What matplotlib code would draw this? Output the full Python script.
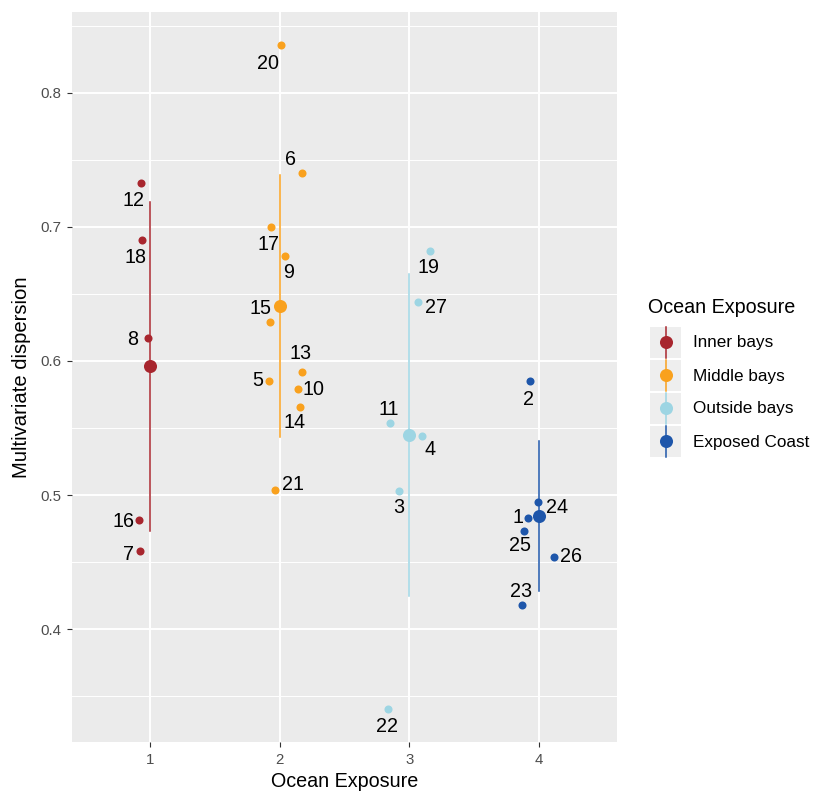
import numpy as np
import matplotlib
matplotlib.use("Agg")
import matplotlib.pyplot as plt
from matplotlib.patches import Rectangle

plt.rcParams['font.family'] = ['Liberation Sans', 'DejaVu Sans']

# groups and colours
groups = ["Inner bays", "Middle bays", "Outside bays", "Exposed Coast"]
colors = ["#A8262E", "#F9A11E", "#9DD5E3", "#1E56AA"]

# site points (x jittered around exposure level)
site_ids = [[12, 18, 8, 16, 7],
            [20, 6, 17, 9, 15, 13, 5, 10, 14, 21],
            [19, 27, 11, 4, 3, 22],
            [2, 24, 1, 25, 26, 23]]
site_x = [[0.928, 0.936, 0.982, 0.918, 0.925],
          [2.013, 2.175, 1.936, 2.044, 1.925, 2.175, 1.918, 2.144, 2.159, 1.961],
          [3.162, 3.069, 2.850, 3.097, 2.923, 2.833],
          [3.933, 3.990, 3.917, 3.883, 4.116, 3.870]]
site_y = [[0.733, 0.690, 0.617, 0.481, 0.458],
          [0.836, 0.740, 0.700, 0.678, 0.629, 0.592, 0.585, 0.579, 0.566, 0.504],
          [0.682, 0.644, 0.554, 0.544, 0.503, 0.340],
          [0.585, 0.495, 0.483, 0.473, 0.454, 0.418]]

# label offsets in pixels (dx right, dy down) from each point
label_dx = [[-7, -6, -15, -16, -12],
            [-13, -12, -3, 3, -9, -2, -11, 15, -6, 18],
            [-2, 18, -1, 8, -1, -1],
            [-2, 19, -10, -4, 17, -1]]
label_dy = [[16, 16, 0, 0, 2],
            [17, -15, 16, 15, -15, -20, -2, -1, 14, -7],
            [15, 4, -15, 12, 15, 16],
            [17, 4, -2, 13, -2, -15]]

# group mean and +/- sd bars
levels = [1, 2, 3, 4]
means = [0.596, 0.641, 0.545, 0.4845]
sds = [0.123, 0.0977, 0.120, 0.056]

fig = plt.figure(figsize=(8.13, 7.92), dpi=100)
ax = fig.add_axes([72 / 813, 50 / 792, 545 / 813, 730 / 792])
ax.set_facecolor("#EBEBEB")
for s in ax.spines.values():
    s.set_visible(False)

ax.set_xlim(0.4, 4.6)
ax.set_ylim(0.3157, 0.8604)
ax.set_xticks(levels)
ax.set_xticklabels([str(l) for l in levels])
ax.set_yticks([0.4, 0.5, 0.6, 0.7, 0.8])
ax.set_yticks([0.35, 0.45, 0.55, 0.65, 0.75, 0.85], minor=True)
ax.grid(True, which="major", color="white", linewidth=1.4)
ax.grid(True, which="minor", axis="y", color="white", linewidth=0.7)
ax.set_axisbelow(True)
ax.tick_params(axis="both", which="major", length=3.6, width=0.8, color="#333333",
               labelsize=10.8, labelcolor="#4D4D4D", pad=4)
ax.tick_params(axis="both", which="minor", length=0)

for g in range(4):
    ax.plot([levels[g], levels[g]], [means[g] - sds[g], means[g] + sds[g]],
            color=colors[g], linewidth=1.1, zorder=2)
    ax.plot(site_x[g], site_y[g], "o", color=colors[g], markersize=5.8,
            markeredgewidth=0, zorder=3)
    ax.plot(levels[g], means[g], "o", color=colors[g], markersize=9.4,
            markeredgewidth=0, zorder=3)
    for sid, x, y, dx, dy in zip(site_ids[g], site_x[g], site_y[g], label_dx[g], label_dy[g]):
        ax.annotate(str(sid), (x, y), xytext=(dx * 0.72, -(dy + 1.5) * 0.72),
                    textcoords="offset points", ha="center", va="center",
                    fontsize=14.2, color="black", zorder=4)

ax.set_xlabel("Ocean Exposure", fontsize=14.2, labelpad=4)
ax.set_ylabel("Multivariate dispersion", fontsize=14.6, labelpad=7)

# legend drawn in pixel coordinates
lax = fig.add_axes([0, 0, 1, 1])
lax.set_xlim(0, 813)
lax.set_ylim(792, 0)
lax.axis("off")
lax.text(648, 313, "Ocean Exposure", fontsize=14.2, va="baseline", ha="left")
for i, (name, c) in enumerate(zip(groups, colors)):
    yc = 342 + i * 33
    lax.add_patch(Rectangle((650, yc - 15.5), 31, 31, facecolor="#EEEEEE", edgecolor="none"))
    lax.plot([665.7, 665.7], [yc - 15.5, yc + 15.5], color=c, linewidth=1.1)
    lax.plot(665.7, yc, "o", color=c, markersize=9.4, markeredgewidth=0)
    lax.text(693, yc + 1, name, fontsize=12.3, va="center", ha="left")

fig.savefig("out.png", dpi=100)
